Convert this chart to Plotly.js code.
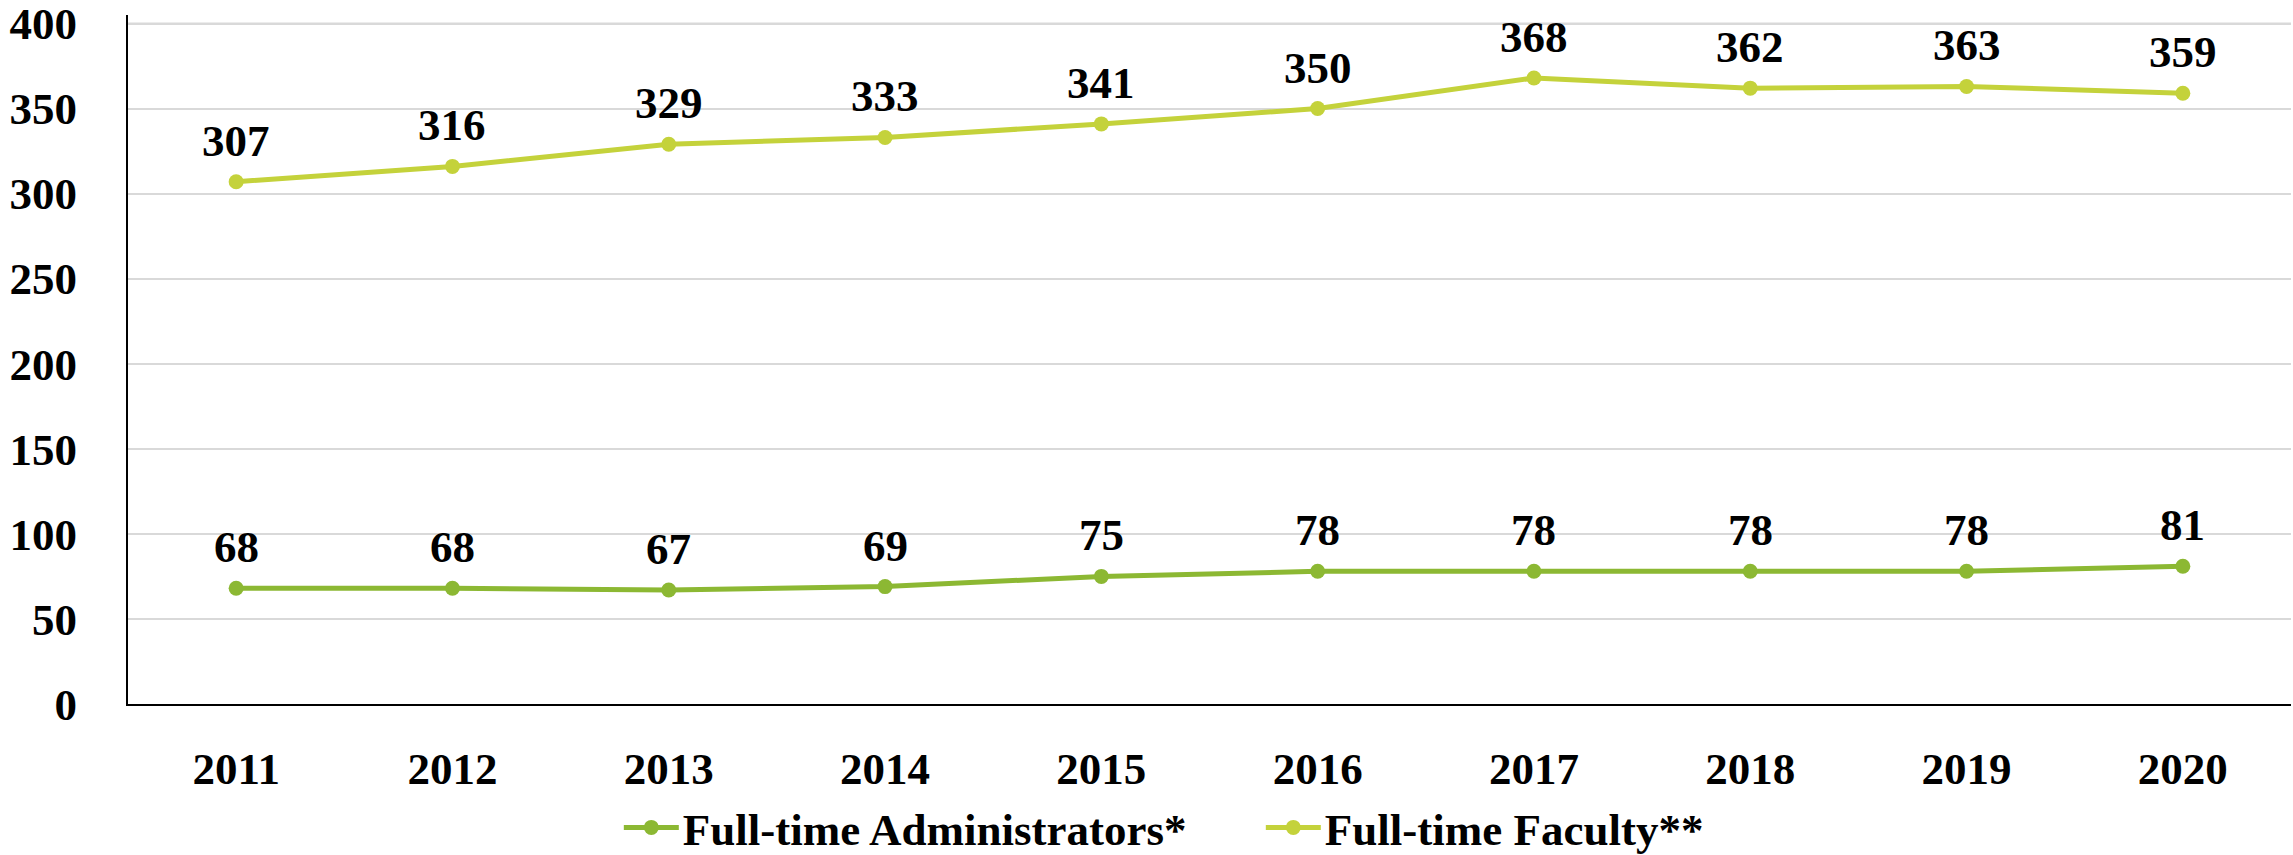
<!DOCTYPE html>
<html>
<head>
<meta charset="utf-8">
<script src="https://cdn.plot.ly/plotly-3.0.1.min.js"></script>
<style>
html,body{margin:0;padding:0;background:#fff;}
#chart{width:2293px;height:855px;}
</style>
</head>
<body>
<div id="chart"></div>
<script>
const years = ['2011','2012','2013','2014','2015','2016','2017','2018','2019','2020'];
const administrators = [68, 68, 67, 69, 75, 78, 78, 78, 78, 81];
const faculty = [307, 316, 329, 333, 341, 350, 368, 362, 363, 359];
const seriesNames = ['Full-time Administrators*', 'Full-time Faculty**'];
const yTicks = [0, 50, 100, 150, 200, 250, 300, 350, 400];

const FONT = 'Liberation Serif, Times New Roman, serif';
const colAdmin = '#8CB833';
const colFac = '#C4D23B';

function labels(vals){
  return vals.map((v,i)=>({
    x: i, y: v, xref:'x', yref:'y',
    text: '<b>'+v+'</b>', showarrow:false,
    yanchor:'middle', xanchor:'center', yshift:41,
    font:{family:FONT, size:45, color:'#000'}
  }));
}

const traces = [
  {x: years, y: administrators, name: seriesNames[0], type:'scatter', mode:'lines+markers',
   line:{color:colAdmin, width:5}, marker:{color:colAdmin, size:15}},
  {x: years, y: faculty, name: seriesNames[1], type:'scatter', mode:'lines+markers',
   line:{color:colFac, width:5}, marker:{color:colFac, size:15}}
];

const topTick = yTicks[yTicks.length - 1];

const layout = {
  width:2293, height:855,
  margin:{l:128, r:2, t:14.5, b:151, autoexpand:false},
  paper_bgcolor:'#fff', plot_bgcolor:'#fff',
  font:{family:FONT, size:45, color:'#000'},
  showlegend:true,
  legend:{orientation:'h', xref:'container', yref:'container', x:0.269, xanchor:'left', y:0.032, yanchor:'middle',
          font:{family:FONT, size:45, color:'#000', weight:'bold'}, itemwidth:56,
          entrywidth:571, entrywidthmode:'pixels'},
  xaxis:{type:'category', range:[-0.5, 9.5], showgrid:false, zeroline:false, automargin:false,
         showline:true, linecolor:'#000', linewidth:2, ticks:'',
         tickfont:{family:FONT, size:45, color:'#000', weight:'bold'}, ticklabelstandoff:24},
  yaxis:{range:[0,405], tickvals:yTicks, ticktext:yTicks.map(String), showgrid:true, automargin:false,
         gridcolor:'#d9d9d9', gridwidth:2, zeroline:false, showline:true, linecolor:'#000', linewidth:2,
         ticks:'', ticklabeloverflow:'allow',
         tickfont:{family:FONT, size:45, color:'#000', weight:'bold'}, ticklabelstandoff:40},
  shapes:[{type:'line', xref:'paper', x0:0, x1:1, yref:'y', y0:topTick, y1:topTick,
           line:{color:'#d9d9d9', width:2}, layer:'above'}],
  annotations: labels(administrators).concat(labels(faculty))
};

Plotly.newPlot('chart', traces, layout, {displayModeBar:false, staticPlot:true}).then(function(gd){
  // widen the legend line symbols to match the reference
  gd.querySelectorAll('.legend .traces').forEach(function(tr){
    tr.querySelectorAll('.legendlines path').forEach(function(p){ p.setAttribute('d','M7,0h55'); });
    tr.querySelectorAll('.legendpoints path').forEach(function(p){ p.setAttribute('transform','translate(34.5,0)'); });
  });
});
</script>
</body>
</html>
